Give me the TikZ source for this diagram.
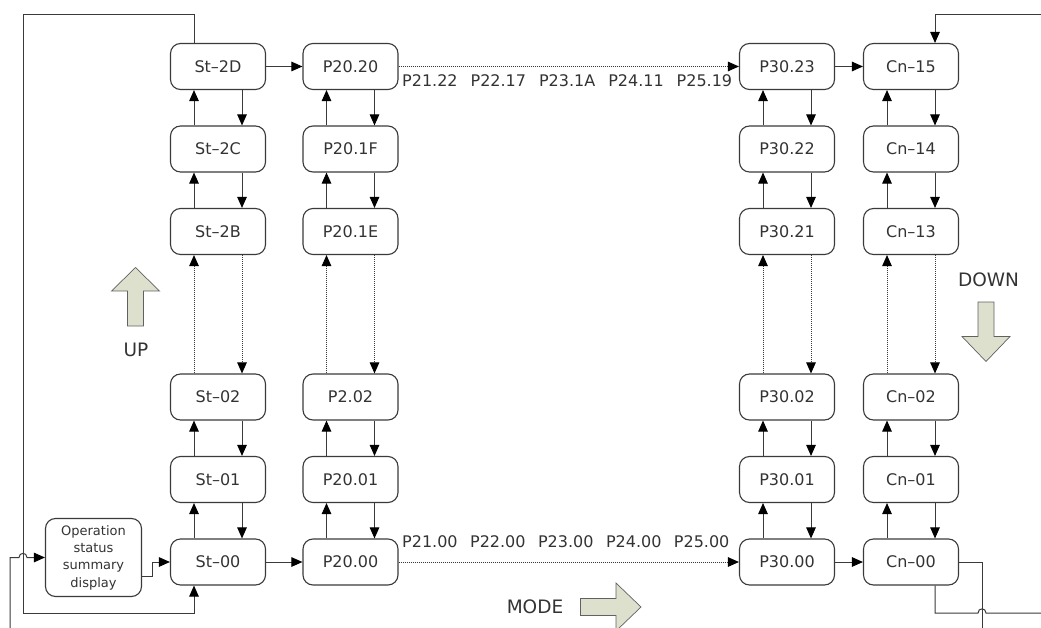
\documentclass[tikz,border=0pt]{standalone}
\usepackage{fontspec}
\setmainfont{DejaVu Sans}
\usetikzlibrary{arrows.meta}
\definecolor{ln}{HTML}{3A3A3A}
\definecolor{txt}{HTML}{333333}
\definecolor{bigfill}{HTML}{DDE0CC}
\begin{document}
\begin{tikzpicture}[x=1pt,y=-1pt,
  box/.style={draw=ln, line width=1.1pt, rounded corners=10pt, minimum width=95pt, minimum height=46pt, inner sep=0pt, font=\fontsize{16}{19}\selectfont, text=txt},
  conn/.style={draw=ln, line width=1pt},
  solidarr/.style={conn, -{Triangle[length=11pt,width=9.5pt,color=black]}},
  dotarr/.style={solidarr, dash pattern=on 1pt off 1pt},
  lbl/.style={font=\fontsize{16}{19}\selectfont, text=txt, inner sep=0pt},
  bigtxt/.style={font=\fontsize{18.5}{22}\selectfont, text=txt, inner sep=0pt},
  bigarrow/.style={draw=ln!80, line width=0.7pt, fill=bigfill}
]
\useasboundingbox (0,0) rectangle (1041,628);

% St column
\node[box] (a1) at (218,66.5) {St–2D};
\node[box] (a2) at (218,149) {St–2C};
\node[box] (a3) at (218,231.5) {St–2B};
\node[box] (a4) at (218,397) {St–02};
\node[box] (a5) at (218,479.5) {St–01};
\node[box] (a6) at (218,562) {St–00};
% P20 column
\node[box] (b1) at (350.5,66.5) {P20.20};
\node[box] (b2) at (350.5,149) {P20.1F};
\node[box] (b3) at (350.5,231.5) {P20.1E};
\node[box] (b4) at (350.5,397) {P2.02};
\node[box] (b5) at (350.5,479.5) {P20.01};
\node[box] (b6) at (350.5,562) {P20.00};
% P30 column
\node[box] (c1) at (787,66.5) {P30.23};
\node[box] (c2) at (787,149) {P30.22};
\node[box] (c3) at (787,231.5) {P30.21};
\node[box] (c4) at (787,397) {P30.02};
\node[box] (c5) at (787,479.5) {P30.01};
\node[box] (c6) at (787,562) {P30.00};
% Cn column
\node[box] (d1) at (911,66.5) {Cn–15};
\node[box] (d2) at (911,149) {Cn–14};
\node[box] (d3) at (911,231.5) {Cn–13};
\node[box] (d4) at (911,397) {Cn–02};
\node[box] (d5) at (911,479.5) {Cn–01};
\node[box] (d6) at (911,562) {Cn–00};

% operation status box
\node[box, minimum width=96pt, minimum height=78pt, font=\fontsize{13}{17.3}\selectfont, align=center] (op) at (93.5,557.5) {Operation\\status\\summary\\display};

% vertical connectors
\foreach \c in {a,b,c,d}{
  \foreach \u/\l/\s in {1/2/solidarr,2/3/solidarr,3/4/dotarr,4/5/solidarr,5/6/solidarr}{
    \draw[\s] ([xshift=-24pt]\c\l.north) -- ([xshift=-24pt]\c\u.south);
    \draw[\s] ([xshift=24pt]\c\u.south) -- ([xshift=24pt]\c\l.north);
  }
}

% horizontal connectors
\draw[solidarr] (a1) -- (b1);
\draw[dotarr] (b1) -- (c1);
\draw[solidarr] (c1) -- (d1);
\draw[solidarr] (a6) -- (b6);
\draw[dotarr] (b6) -- (c6);
\draw[solidarr] (c6) -- (d6);

% labels along the dotted arrows
\node[lbl, anchor=west] (toplbl) at (402,81) {P21.22\hspace{13pt}P22.17\hspace{13pt}P23.1A\hspace{13pt}P24.11\hspace{13pt}P25.19};
\node[lbl, anchor=west] (botlbl) at (402,542) {P21.00\hspace{12.5pt}P22.00\hspace{12.5pt}P23.00\hspace{12.5pt}P24.00\hspace{12.5pt}P25.00};

% op box to St-00
\draw[solidarr] ([yshift=-18.5pt]op.east) -- ++(10,0) |- (a6.west);

% left loop
\coordinate (tl) at (23,15);
\coordinate (bl) at (23,613);
\draw[solidarr] ([xshift=-24pt]a1.north) |- (tl) -- (bl) -| ([xshift=-24pt]a6.south);

% left wrap-in line
\coordinate (wl) at (10,629);
\coordinate (wc) at (10,557.5);
\draw[solidarr] (wl) -- (wc) -- (19,557.5) .. controls (19,552) and (27,552) .. (27,557.5) -- (op.west);

% right top wrap
\coordinate (tr) at (1042,15);
\draw[solidarr] (tr) -| ([xshift=24pt]d1.north);

% right bottom lines
\coordinate (br1) at (982,629);
\coordinate (br2) at (1042,613);
\draw[conn] (d6.east) -| (br1);
\draw[conn] ([xshift=24pt]d6.south) |- (978,613) .. controls (978,607.5) and (986,607.5) .. (986,613) -- (br2);

% big arrows
\draw[bigarrow] (135.5,267.5) -- (159.5,291) -- (143.5,291) -- (143.5,326) -- (127.5,326) -- (127.5,291) -- (111.5,291) -- cycle;
\node[bigtxt] (up) at (136,350) {UP};
\draw[bigarrow] (986,361.5) -- (1010,336.5) -- (994,336.5) -- (994,302) -- (978,302) -- (978,336.5) -- (962,336.5) -- cycle;
\node[bigtxt] (down) at (988.5,280) {DOWN};
\draw[bigarrow] (641,607) -- (616,631) -- (616,615.5) -- (580.5,615.5) -- (580.5,598.5) -- (616,598.5) -- (616,583) -- cycle;
\node[bigtxt] (mode) at (535,607) {MODE};
\end{tikzpicture}
\end{document}
